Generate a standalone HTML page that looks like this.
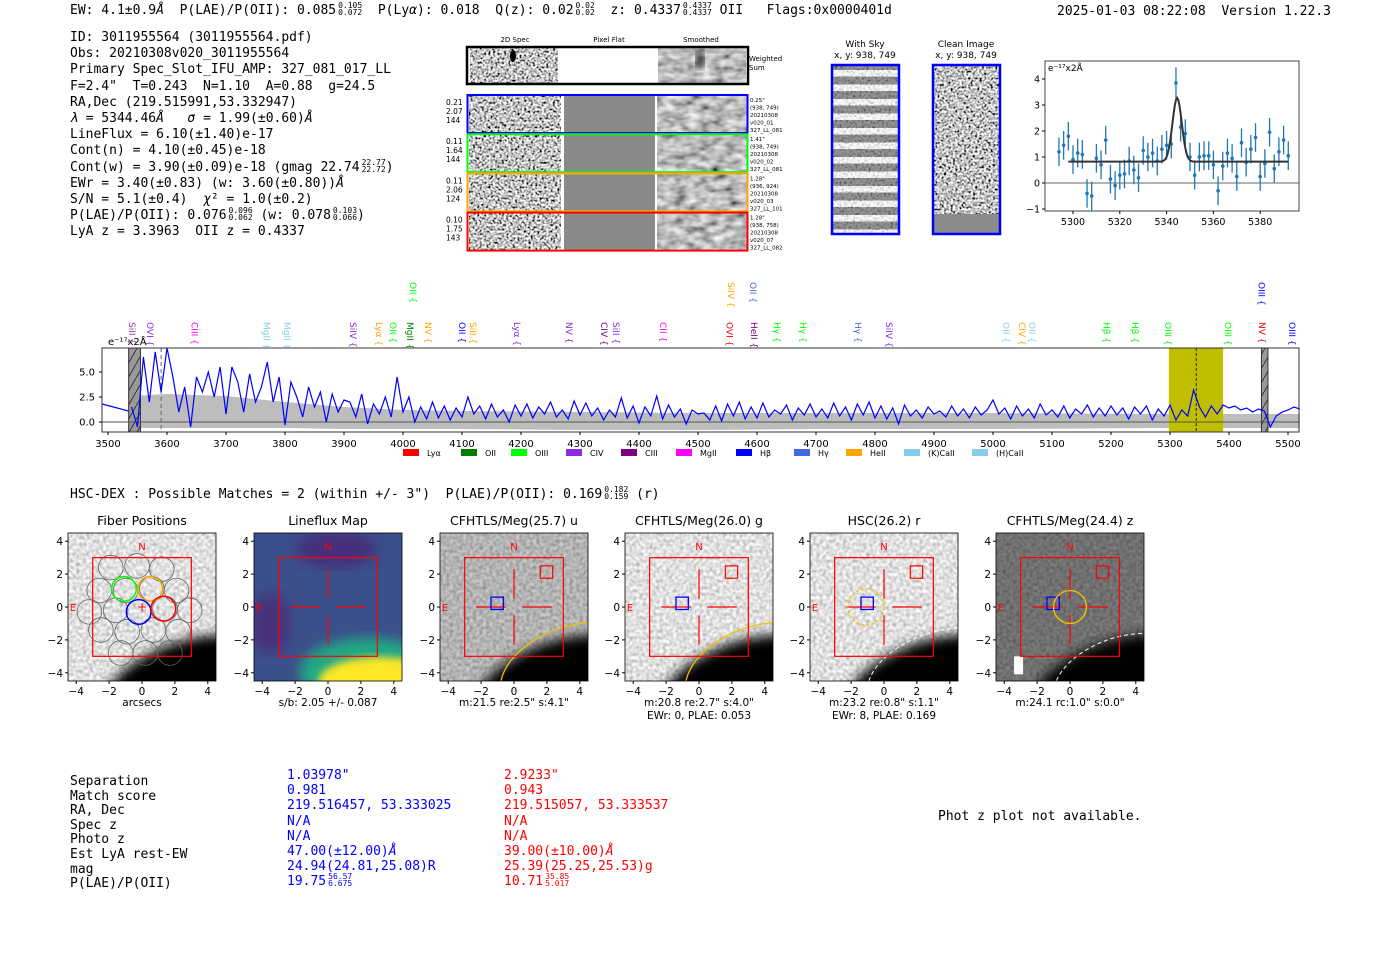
<!DOCTYPE html>
<html><head><meta charset="utf-8">
<style>
body{margin:0;width:1400px;height:953px;background:#fff;overflow:hidden;position:relative;font-family:"DejaVu Sans","Liberation Sans",sans-serif}
.mono{position:absolute;font-family:"DejaVu Sans Mono","Liberation Mono",monospace;font-size:13px;line-height:14.6px;white-space:pre;color:#000}
.ss{display:inline-block;height:12px;vertical-align:-2px;font-size:8px;line-height:7px;text-align:left;margin-left:2px;position:relative;top:-1px}
.ss span{display:block}
svg{position:absolute;left:0;top:0}
</style></head><body>
<svg id="g" width="1400" height="953" viewBox="0 0 1400 953">
<defs>
<filter id="nz" x="0" y="0" width="100%" height="100%"><feTurbulence type="fractalNoise" baseFrequency="0.45" numOctaves="1" seed="4"/><feColorMatrix type="saturate" values="0"/><feComponentTransfer><feFuncR type="linear" slope="3.5" intercept="-1.2"/><feFuncG type="linear" slope="3.5" intercept="-1.2"/><feFuncB type="linear" slope="3.5" intercept="-1.2"/><feFuncA type="linear" slope="0" intercept="1"/></feComponentTransfer></filter>
<filter id="nzs" x="0" y="0" width="100%" height="100%"><feTurbulence type="fractalNoise" baseFrequency="0.08 0.15" numOctaves="2" seed="7"/><feColorMatrix type="saturate" values="0"/><feComponentTransfer><feFuncR type="linear" slope="1.6" intercept="-0.3"/><feFuncG type="linear" slope="1.6" intercept="-0.3"/><feFuncB type="linear" slope="1.6" intercept="-0.3"/><feFuncA type="linear" slope="0" intercept="1"/></feComponentTransfer></filter>
<filter id="nzp" x="0" y="0" width="100%" height="100%"><feTurbulence type="fractalNoise" baseFrequency="0.3" numOctaves="1" seed="2"/><feColorMatrix type="saturate" values="0"/><feComponentTransfer><feFuncR type="linear" slope="1.2" intercept="0.15"/><feFuncG type="linear" slope="1.2" intercept="0.15"/><feFuncB type="linear" slope="1.2" intercept="0.15"/><feFuncA type="linear" slope="0" intercept="1"/></feComponentTransfer></filter>
<filter id="bl"><feGaussianBlur stdDeviation="6"/></filter>
<filter id="bl2"><feGaussianBlur stdDeviation="4"/></filter>
<pattern id="hatch" width="8" height="14" patternUnits="userSpaceOnUse"><rect width="8" height="14" fill="#999"/><line x1="0" y1="14" x2="8" y2="0" stroke="#333" stroke-width="1"/></pattern>
<pattern id="sky" width="10" height="14.5" patternUnits="userSpaceOnUse"><rect width="10" height="14.5" fill="#fff"/><rect y="4" width="10" height="8" fill="#777"/></pattern>
</defs>
</svg>

<div class="mono" style="left:70px;top:3px">EW: 4.1±0.9<i>Å</i>  P(LAE)/P(OII): 0.085<span class="ss"><span>0.105</span><span>0.072</span></span>  P(Ly<i>α</i>): 0.018  Q(z): 0.02<span class="ss"><span>0.02</span><span>0.02</span></span>  z: 0.4337<span class="ss"><span>0.4337</span><span>0.4337</span></span> OII   Flags:0x0000401d</div>
<div class="mono" style="left:1057px;top:5px">2025-01-03 08:22:08  Version 1.22.3</div>
<div class="mono" style="left:70px;top:30px;line-height:16.2px">ID: 3011955564 (3011955564.pdf)
Obs: 20210308v020_3011955564
Primary Spec_Slot_IFU_AMP: 327_081_017_LL
F=2.4"  T=0.243  N=1.10  A=0.88  g=24.5
RA,Dec (219.515991,53.332947)
<i>λ</i> = 5344.46<i>Å</i>   <i>σ</i> = 1.99(±0.60)<i>Å</i>
LineFlux = 6.10(±1.40)e-17
Cont(n) = 4.10(±0.45)e-18
Cont(w) = 3.90(±0.09)e-18 (gmag 22.74<span class="ss"><span>22.77</span><span>22.72</span></span>)
EWr = 3.40(±0.83) (w: 3.60(±0.80))<i>Å</i>
S/N = 5.1(±0.4)  <i>χ</i>² = 1.0(±0.2)
P(LAE)/P(OII): 0.076<span class="ss"><span>0.096</span><span>0.062</span></span> (w: 0.078<span class="ss"><span>0.103</span><span>0.066</span></span>)
LyA z = 3.3963  OII z = 0.4337</div>
<div class="mono" style="left:70px;top:487px">HSC-DEX : Possible Matches = 2 (within +/- 3")  P(LAE)/P(OII): 0.169<span class="ss"><span>0.182</span><span>0.159</span></span> (r)</div>
<div class="mono" style="left:70px;top:775px">Separation
Match score
RA, Dec
Spec z
Photo z
Est LyA rest-EW
mag
P(LAE)/P(OII)</div>
<div class="mono" style="left:287px;top:768px;line-height:15.2px;color:#0000ff">1.03978"
0.981
219.516457, 53.333025
N/A
N/A
47.00(±12.00)<i>Å</i>
24.94(24.81,25.08)R
19.75<span class="ss"><span>56.57</span><span>6.675</span></span></div>
<div class="mono" style="left:504px;top:768px;line-height:15.2px;color:#ff0000">2.9233"
0.943
219.515057, 53.333537
N/A
N/A
39.00(±10.00)<i>Å</i>
25.39(25.25,25.53)g
10.71<span class="ss"><span>35.85</span><span>5.017</span></span></div>
<div class="mono" style="left:938px;top:810px">Phot z plot not available.</div>

<script>
// ---------- data ----------
const specStart = 3540, specStep = 10;
const specFlux = [1.5,-0.5,6.5,2.0,7.0,3.0,7.5,
4.5,1.0,3.5,-0.5,4.5,3.0,5.0,2.5,5.5,0.8,
5.5,4.0,1.0,4.8,2.0,3.5,6.0,2.0,4.5,-0.3,
4.0,2.5,0.5,3.5,1.5,3.0,0.0,2.8,1.0,2.2,
2.0,0.5,2.8,-0.2,1.8,0.8,2.5,0.5,4.5,1.0,
2.5,0.0,1.5,0.3,2.0,0.4,1.6,0.2,1.4,0.5,
2.5,0.8,1.6,0.3,1.8,0.5,1.2,0.0,1.7,0.6,
1.8,0.4,1.5,0.8,2.0,0.5,1.2,0.3,2.1,0.7,
1.9,0.6,1.4,0.2,1.2,0.5,2.4,0.4,1.6,-0.1,
1.5,0.6,2.6,0.3,1.7,0.5,1.3,-0.2,1.2,0.8,
0.9,0.2,1.6,0.1,1.8,0.6,2.0,0.3,1.5,0.4,
1.9,0.5,1.2,0.8,1.7,0.2,1.4,0.7,1.8,0.5,
1.3,0.4,1.9,0.6,1.5,0.2,1.8,0.7,2.0,0.4,
1.6,0.3,1.4,-0.2,1.7,0.6,1.2,0.4,1.5,0.8,
1.1,0.5,1.6,0.6,1.3,0.4,1.5,0.7,1.2,2.2,
0.8,1.4,0.3,1.6,0.6,1.3,0.4,1.8,0.7,1.2,
0.5,1.6,0.4,1.3,0.8,1.7,0.5,1.4,0.6,1.6,
0.7,1.4,0.3,1.5,0.8,1.6,0.2,1.3,0.6,1.7,
0.2,1.2,0.6,3.2,1.5,0.5,1.6,0.8,1.7,1.4,
1.6,1.2,1.4,1.0,1.3,1.1,-0.5,0.6,1.0,1.2,
1.5,1.3];
const errWave = [3540,3600,3700,3800,3900,4000,4100,4300,4500,4700,5000,5300,5500,5520];
const errUpper = [2.6,2.8,2.6,2.0,1.5,1.2,1.1,1.0,0.9,0.9,0.9,0.8,0.8,0.8];
const errLower = [-0.6,-0.6,-0.6,-0.6,-0.7,-0.7,-0.7,-0.8,-0.8,-0.7,-0.7,-0.6,-0.6,-0.6];
const specXTicks = [3500,3600,3700,3800,3900,4000,4100,4200,4300,4400,4500,4600,4700,4800,4900,5000,5100,5200,5300,5400,5500];
const specYTicks = [0.0,2.5,5.0];
const lineWaves = [3541,3571,3647,3769,3803,3915,3959,3983,4012,4017,4042,4100,4119,4193,4281,4341,4361,4441,4553,4556,4593,4595,4634,4678,4771,4824,5022,5049,5066,5192,5241,5297,5398,5456,5455,5507];
const lineNames = ["SiII","OVI","CIII","MgII","MgII","SiIV","Lyα","OII","MgII","OII","NV","OII","SiII","Lyα","NV","CIV","SiII","CII","OVI","SiIV","OII","HeII","Hγ","Hγ","Hγ","SiIV","OII","CIV","OII","Hβ","Hβ","OIII","OIII","NV","OIII","OIII"];
const lineColors = ["#9b30a0","#8a2be2","#ff00ff","#87ceeb","#87ceeb","#8a2be2","#ffa500","#00ff00","#008000","#00ff00","#ffa500","#0000ff","#ffa500","#8a2be2","#8a2be2","#800080","#8a2be2","#ff00ff","#ff0000","#ffa500","#4169e1","#800080","#00ff00","#00ff00","#4169e1","#8a2be2","#87ceeb","#ffa500","#87ceeb","#00ff00","#00ff00","#00ff00","#00ff00","#ff0000","#0000ff","#0000ff"];
const lineRow = [0,0,0,0,0,0,0,0,0,1,0,0,0,0,0,0,0,0,0,1,1,0,0,0,0,0,0,0,0,0,0,0,0,0,1,0];
const legendNames = ["Lyα","OII","OIII","CIV","CIII","MgII","Hβ","Hγ","HeII","(K)CaII","(H)CaII"];
const legendColors = ["#ff0000","#008000","#00ff00","#8a2be2","#800080","#ff00ff","#0000ff","#4169e1","#ffa500","#87ceeb","#87ceeb"];
const fitWave = [5294,5296,5298,5300,5302,5304,5306,5308,5310,5312,5314,5316,5318,5320,5322,5324,5326,5328,5330,5332,5334,5336,5338,5340,5342,5344,5346,5348,5350,5352,5354,5356,5358,5360,5362,5364,5366,5368,5370,5372,5374,5376,5378,5380,5382,5384,5386,5388,5390,5392];
const fitFlux = [1.2,1.45,1.8,0.9,1.15,1.1,-0.4,-0.5,0.95,0.7,1.65,0.15,-0.1,0.3,0.35,0.85,0.5,0.2,1.25,1.0,1.15,0.85,1.3,1.45,1.5,3.85,2.15,1.9,1.0,0.3,1.0,1.05,1.05,0.7,-0.3,0.65,1.15,0.95,0.25,1.55,0.8,1.3,1.75,0.25,0.75,1.95,0.55,1.2,1.65,1.05];
const fitErr = [0.55,0.55,0.55,0.55,0.55,0.55,0.55,0.55,0.55,0.55,0.55,0.55,0.55,0.55,0.55,0.55,0.55,0.55,0.55,0.55,0.55,0.55,0.55,0.55,0.55,0.6,0.55,0.55,0.55,0.55,0.55,0.55,0.55,0.55,0.55,0.55,0.55,0.55,0.55,0.55,0.55,0.55,0.55,0.55,0.55,0.55,0.55,0.55,0.55,0.55];
const fitModel = [0.82, 2.45, 5344.5, 1.99]; // continuum, amplitude, center, sigma
const fitXTicks = [5300,5320,5340,5360,5380];
const fitYTicks = [-1,0,1,2,3,4];
const panelTitles = ["Fiber Positions","Lineflux Map","CFHTLS/Meg(25.7) u","CFHTLS/Meg(26.0) g","HSC(26.2) r","CFHTLS/Meg(24.4) z"];
const panelCaps1 = ["arcsecs","s/b: 2.05 +/- 0.087",'m:21.5  re:2.5"  s:4.1"','m:20.8  re:2.7"  s:4.0"','m:23.2  re:0.8"  s:1.1"','m:24.1 rc:1.0"  s:0.0"'];
const panelCaps2 = ["","","","EWr: 0, PLAE: 0.053","EWr: 8, PLAE: 0.169",""];
const panelTicks = [-4,-2,0,2,4];
const rowVals = [["0.21","2.07","144"],["0.11","1.64","144"],["0.11","2.06","124"],["0.10","1.75","143"]];
const rowInfo = [['0.25"',"(938, 749)","20210308","v020_01","327_LL_081"],['1.41"',"(938, 749)","20210308","v020_02","327_LL_081"],['1.28"',"(936, 924)","20210308","v020_03","327_LL_101"],['1.28"',"(938, 758)","20210308","v020_07","327_LL_082"]];
const rowColors = ["#0000ff","#00ff00","#ffa500","#ff0000"];
const fiberX = [-1.9,-0.3,1.2,-2.6,-1.0,0.6,2.1,-3.2,-1.6,-0.2,1.4,2.9,-2.5,-0.9,0.7,2.2,-1.3,0.2,1.7];
const fiberY = [2.4,2.5,2.3,1.0,1.0,1.1,1.0,-0.3,-0.2,-0.3,-0.1,-0.2,-1.4,-1.5,-1.4,-1.5,-2.8,-2.8,-2.8];

// ---------- helpers ----------
const svg = document.getElementById('g');
const NS = 'http://www.w3.org/2000/svg';
function mk(tag, attrs, parent){const e=document.createElementNS(NS,tag);for(const k in attrs)e.setAttribute(k,attrs[k]);(parent||svg).appendChild(e);return e;}
function txt(x,y,s,size,fill,anchor,parent){const t=mk('text',{x:x,y:y,'font-size':size,fill:fill||'#000','text-anchor':anchor||'start','font-family':'DejaVu Sans, Liberation Sans, sans-serif'},parent);t.textContent=s;return t;}

// ---------- spectrum ----------
const sp = {x0:102,x1:1299,y0:348,y1:432};
const sx = w => 108 + (w-3500)*0.59;
const sy = v => 422 - v*10;
const specG = mk('g',{});


let band='';
errWave.forEach((w,i)=>{band+=(i?'L':'M')+sx(w)+','+sy(errUpper[i]);});
for(let i=errWave.length-1;i>=0;i--) band+='L'+sx(errWave[i])+','+sy(errLower[i]);
const bandEl = mk('path',{d:band+'Z',fill:'#bdbdbd'},specG);


const yel = mk('rect',{x:sx(5298),y:sp.y0,width:sx(5390)-sx(5298),height:sp.y1-sp.y0,fill:'#bfbf00'},specG);


const h1 = mk('rect',{x:sx(3535),y:sp.y0,width:sx(3555)-sx(3535),height:sp.y1-sp.y0,fill:'url(#hatch)',stroke:'#333'},specG);


const h2 = mk('rect',{x:sx(5455),y:sp.y0,width:sx(5466)-sx(5455),height:sp.y1-sp.y0,fill:'url(#hatch)',stroke:'#333'},specG);


mk('line',{x1:sp.x0,x2:sp.x1,y1:sy(0),y2:sy(0),stroke:'#555','stroke-width':1},specG);
mk('line',{x1:sx(3590),x2:sx(3590),y1:sp.y0,y2:sp.y1,stroke:'#666','stroke-dasharray':'4,3'},specG);
mk('line',{x1:sx(5344.5),x2:sx(5344.5),y1:sp.y0,y2:sp.y1,stroke:'#222','stroke-dasharray':'3,2'},specG);
let fp='M'+sp.x0+','+sy(1.8)+'L'+sx(3535)+','+sy(1.1);
specFlux.forEach((v,i)=>{fp+=(i?'L':'M')+sx(specStart+i*specStep)+','+Math.max(sp.y0,Math.min(sp.y1,sy(v)));});
const fl = mk('path',{d:fp,fill:'none',stroke:'#0000ff','stroke-width':1.2},specG);


mk('rect',{x:sp.x0,y:sp.y0,width:sp.x1-sp.x0,height:sp.y1-sp.y0,fill:'none',stroke:'#333'},specG);
specXTicks.forEach(t=>{mk('line',{x1:sx(t),x2:sx(t),y1:sp.y1,y2:sp.y1+3,stroke:'#000'},specG);const e=txt(sx(t),sp.y1+15,String(t),10,'#000','middle',specG);});
specYTicks.forEach(t=>{mk('line',{x1:sp.x0-3,x2:sp.x0,y1:sy(t),y2:sy(t),stroke:'#000'},specG);const e=txt(sp.x0-7,sy(t)+3.5,t.toFixed(1),10,'#000','end',specG);});
txt(108,345,'e⁻¹⁷x2Å',10,'#000','start',specG);
lineWaves.forEach((w,i)=>{
  const yTop = lineRow[i] ? 282 : 322;
  const t = txt(0,0,lineNames[i]+' {',9,lineColors[i],'start',specG);
  t.setAttribute('transform','translate('+(sx(w)-3)+','+yTop+') rotate(90)');
  
  
});
let lx = 403;
const legWidths=[58,50,55,55,55,60,58,52,58,68,68];
legendNames.forEach((n,i)=>{
  const g=mk('g',{},specG);
  
  
  mk('rect',{x:lx,y:449,width:16,height:7,fill:legendColors[i]},g);
  txt(lx+24,456,n,8,'#000','start',g);
  lx+=legWidths[i];
});

// ---------- fit plot ----------
const fg = mk('g',{});


const fx = w => 1073 + (w-5300)*2.34;
const fy = v => 183 - v*26;
mk('rect',{x:1045,y:61,width:254,height:150,fill:'#fff',stroke:'#444'},fg);
mk('line',{x1:1045,x2:1299,y1:fy(0),y2:fy(0),stroke:'#666'},fg);
fitWave.forEach((w,i)=>{
  const p=mk('g',{},fg);
  
  
  mk('line',{x1:fx(w),x2:fx(w),y1:fy(fitFlux[i]+fitErr[i]),y2:fy(fitFlux[i]-fitErr[i]),stroke:'#1f77b4','stroke-width':1.3},p);
  mk('circle',{cx:fx(w),cy:fy(fitFlux[i]),r:1.8,fill:'#1f77b4'},p);
});
let mp='';
for(let w=5298;w<=5392;w+=0.5){const v=fitModel[0]+fitModel[1]*Math.exp(-0.5*Math.pow((w-fitModel[2])/fitModel[3],2));mp+=(mp?'L':'M')+fx(w)+','+fy(v);}
const mod=mk('path',{d:mp,fill:'none',stroke:'#333','stroke-width':2},fg);


fitXTicks.forEach(t=>{mk('line',{x1:fx(t),x2:fx(t),y1:211,y2:214,stroke:'#000'},fg);txt(fx(t),225,String(t),9.5,'#000','middle',fg);});
fitYTicks.forEach(t=>{mk('line',{x1:1042,x2:1045,y1:fy(t),y2:fy(t),stroke:'#000'},fg);txt(1040,fy(t)+3.5,t<0?'−'+(-t):String(t),9.5,'#000','end',fg);});
txt(1048,71,'e⁻¹⁷x2Å',9,'#000','start',fg);

// ---------- 2D cutouts ----------
const cg = mk('g',{});


txt(515,42,'2D Spec',7,'#000','middle',cg);
txt(609,42,'Pixel Flat',7,'#000','middle',cg);
txt(701,42,'Smoothed',7,'#000','middle',cg);
mk('rect',{x:470,y:48,width:88,height:35,filter:'url(#nz)'},cg);
mk('rect',{x:658,y:48,width:88,height:35,filter:'url(#nzs)'},cg);
mk('ellipse',{cx:513,cy:56,rx:3,ry:6,fill:'#000'},cg);
mk('ellipse',{cx:700,cy:60,rx:4,ry:9,fill:'#111',filter:'url(#bl2)'},cg);
mk('rect',{x:467,y:47,width:281,height:37,fill:'none',stroke:'#000','stroke-width':2.5},cg);
txt(749,61,'Weighted',7,'#000','start',cg);
txt(749,70,'Sum',7,'#000','start',cg);
rowColors.forEach((c,i)=>{
  const y=95+i*39.2;
  const r=mk('g',{},cg);
  
  
  mk('rect',{x:469,y:y,width:92,height:38,filter:'url(#nz)'},r);
  mk('rect',{x:564,y:y,width:91,height:38,fill:'#8a8a8a'},r);
  mk('rect',{x:657,y:y,width:90,height:38,filter:'url(#nzs)'},r);
  mk('rect',{x:467.5,y:y,width:280,height:38,fill:'none',stroke:c,'stroke-width':2},r);
  rowVals[i].forEach((s,k)=>txt(446,y+10+k*9,s,7.5,'#000','start',r));
  rowInfo[i].forEach((s,k)=>txt(750,y+7+k*7.5,s,5.5,'#000','start',r));
});
const sky=mk('g',{});


txt(865,47,'With Sky',9,'#000','middle',sky);
txt(865,58,'x, y: 938, 749',9,'#000','middle',sky);
mk('rect',{x:832,y:66,width:66,height:167,fill:'url(#sky)'},sky);
mk('rect',{x:832,y:66,width:66,height:167,fill:'#888',opacity:0.25,filter:'url(#nz)'},sky);
mk('rect',{x:832,y:65,width:67,height:169,fill:'none',stroke:'#0000ff','stroke-width':2.5},sky);
const cln=mk('g',{});


txt(966,47,'Clean Image',9,'#000','middle',cln);
txt(966,58,'x, y: 938, 749',9,'#000','middle',cln);
mk('rect',{x:933,y:66,width:66,height:148,filter:'url(#nz)'},cln);
mk('rect',{x:933,y:214,width:66,height:19,fill:'#8c8c8c'},cln);
mk('rect',{x:933,y:65,width:67,height:169,fill:'none',stroke:'#0000ff','stroke-width':2.5},cln);

// ---------- imaging panels ----------
const panelLeft=[68,254,440,625,810,996];
const pw=148, ptop=533, pu=pw/9;
panelTitles.forEach((title,i)=>{
  const x0=panelLeft[i], cx=x0+pw/2, cy=ptop+pw/2;
  const X=v=>cx+v*pu, Y=v=>cy-v*pu;
  const g=mk('g',{});
  
  
  const cid='cp'+i;
  const cp=mk('clipPath',{id:cid},g);mk('rect',{x:x0,y:ptop,width:pw,height:pw},cp);
  const ig=mk('g',{'clip-path':'url(#'+cid+')'},g);
  if(i===1){
    mk('rect',{x:x0,y:ptop,width:pw,height:pw,fill:'#3b4f8a'},ig);
    mk('ellipse',{cx:X(-3.5),cy:Y(-1),rx:20,ry:30,fill:'#46307a',filter:'url(#bl)'},ig);
    mk('ellipse',{cx:X(0.5),cy:Y(3.5),rx:40,ry:18,fill:'#442f7c',filter:'url(#bl)'},ig);
    mk('ellipse',{cx:X(2.5),cy:Y(-4),rx:70,ry:35,fill:'#22a884',filter:'url(#bl)'},ig);
    mk('ellipse',{cx:X(3.2),cy:Y(-4.5),rx:62,ry:24,fill:'#fde725',filter:'url(#bl2)'},ig);
  } else {
    mk('rect',{x:x0,y:ptop,width:pw,height:pw,filter:'url(#nzp)'},ig);
    if(i===5) mk('rect',{x:x0,y:ptop,width:pw,height:pw,fill:'#000',opacity:0.5},ig);
    if(i===2) mk('rect',{x:x0,y:ptop,width:pw,height:pw,fill:'#000',opacity:0.2},ig);
    mk('ellipse',{cx:X(3),cy:Y(-5.2),rx:95,ry:52,fill:'#000',filter:'url(#bl)',transform:'rotate(-18 '+X(3)+' '+Y(-5.2)+')'},ig);
    if(i===5) mk('rect',{x:X(-3.4),y:Y(-3),width:9,height:18,fill:'#fff'},ig);
    if(i===2||i===3) mk('ellipse',{cx:X(3.5),cy:Y(-4),rx:74,ry:46,fill:'none',stroke:'#f0c000','stroke-width':1.3,transform:'rotate(-20 '+X(3.5)+' '+Y(-4)+')'},ig);
    if(i===4) mk('ellipse',{cx:X(3.2),cy:Y(-4),rx:72,ry:40,fill:'none',stroke:'#fff','stroke-width':1,'stroke-dasharray':'4,3',transform:'rotate(-20 '+X(3.2)+' '+Y(-4)+')'},ig);
    if(i===5) mk('ellipse',{cx:X(3),cy:Y(-4.2),rx:68,ry:38,fill:'none',stroke:'#fff','stroke-width':1,'stroke-dasharray':'4,3',transform:'rotate(-20 '+X(3)+' '+Y(-4.2)+')'},ig);
  }
  if(i===0){
    fiberX.forEach((fx_,k)=>mk('circle',{cx:X(fx_),cy:Y(fiberY[k]),r:pu*0.75,fill:'none',stroke:'#666','stroke-width':0.8},ig));
    [[-1.1,1.1,'#00ff00'],[0.5,1.1,'#ffa500'],[-0.2,-0.3,'#0000ff'],[1.3,-0.1,'#ff0000']].forEach(a=>mk('circle',{cx:X(a[0]),cy:Y(a[1]),r:pu*0.75,fill:'none',stroke:a[2],'stroke-width':1.5},ig));
    txt(X(0),Y(0)+4,'+',12,'#ff0000','middle',ig);
  } else {
    mk('line',{x1:X(0),x2:X(0),y1:Y(2.3),y2:Y(0.5),stroke:'#ff0000','stroke-width':1.2},ig);
    mk('line',{x1:X(0),x2:X(0),y1:Y(-0.5),y2:Y(-2.3),stroke:'#ff0000','stroke-width':1.2},ig);
    mk('line',{x1:X(-2.3),x2:X(-0.5),y1:Y(0),y2:Y(0),stroke:'#ff0000','stroke-width':1.2},ig);
    mk('line',{x1:X(0.5),x2:X(2.3),y1:Y(0),y2:Y(0),stroke:'#ff0000','stroke-width':1.2},ig);
  }
  if(i>=2){
    mk('rect',{x:X(-1.4),y:Y(0.6),width:pu*0.75,height:pu*0.75,fill:'none',stroke:'#0000ff','stroke-width':1.3},ig);
    mk('rect',{x:X(1.6),y:Y(2.5),width:pu*0.75,height:pu*0.75,fill:'none',stroke:'#ff0000','stroke-width':1.2},ig);
  }
  if(i===4) mk('circle',{cx:X(-1.1),cy:Y(0),r:pu*1.1,fill:'none',stroke:'#f0c000','stroke-width':1.2,'stroke-dasharray':'3,2'},ig);
  if(i===5) mk('circle',{cx:X(0),cy:Y(0),r:pu*1.0,fill:'none',stroke:'#f0c000','stroke-width':1.4},ig);
  mk('rect',{x:X(-3),y:Y(3),width:6*pu,height:6*pu,fill:'none',stroke:'#ff0000','stroke-width':1.2},ig);
  txt(X(0),Y(3.7)+4,'N',10,'#ff0000','middle',ig);
  txt(X(-4.2),Y(0)+4,'E',10,'#ff0000','middle',ig);
  mk('rect',{x:x0,y:ptop,width:pw,height:pw,fill:'none',stroke:'#000','stroke-width':0.8},g);
  txt(cx,525,title,12.5,'#000','middle',g);
  panelTicks.forEach(t=>{
    const lab=t<0?'−'+(-t):String(t);
    mk('line',{x1:X(t),x2:X(t),y1:ptop+pw,y2:ptop+pw+3,stroke:'#000'},g);
    txt(X(t),ptop+pw+14,lab,10.5,'#000','middle',g);
    mk('line',{x1:x0-3,x2:x0,y1:Y(t),y2:Y(t),stroke:'#000'},g);
    txt(x0-5,Y(t)+4,lab,10.5,'#000','end',g);
  });
  txt(cx,706,panelCaps1[i],10.5,'#000','middle',g);
  if(panelCaps2[i]) txt(cx,719,panelCaps2[i],10.5,'#000','middle',g);
});
</script>
</body></html>
